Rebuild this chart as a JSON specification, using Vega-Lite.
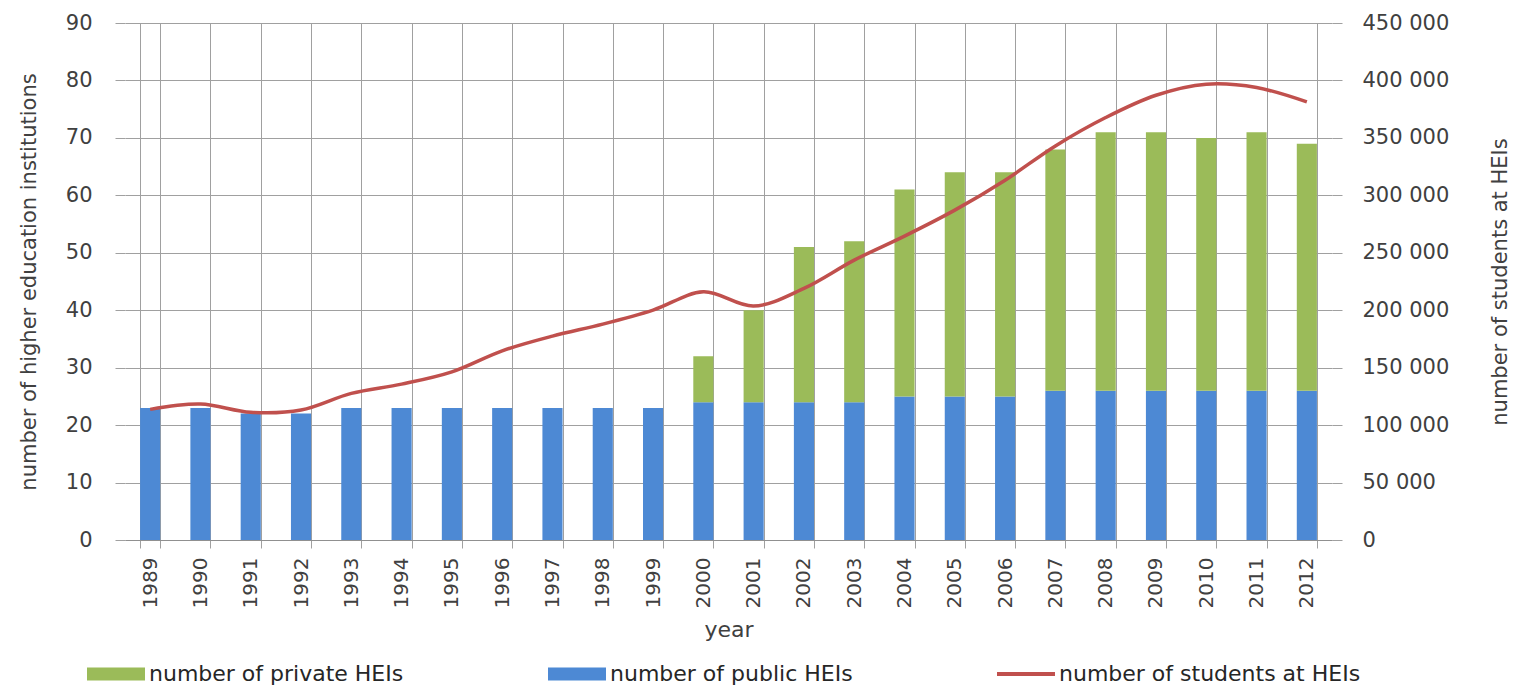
{
  "$schema": "https://vega.github.io/schema/vega-lite/v6.json",
  "width": 1207,
  "height": 517,
  "autosize": {"type": "none"},
  "padding": {"left": 125, "top": 23, "right": 185, "bottom": 151},
  "background": "white",
  "config": {"view": {"stroke": null}, "font": "DejaVu Sans"},
  "datasets": {
    "hei": [
      {"year": "1989", "type": "number of public HEIs", "count": 23},
      {"year": "1990", "type": "number of public HEIs", "count": 23},
      {"year": "1991", "type": "number of public HEIs", "count": 22},
      {"year": "1992", "type": "number of public HEIs", "count": 22},
      {"year": "1993", "type": "number of public HEIs", "count": 23},
      {"year": "1994", "type": "number of public HEIs", "count": 23},
      {"year": "1995", "type": "number of public HEIs", "count": 23},
      {"year": "1996", "type": "number of public HEIs", "count": 23},
      {"year": "1997", "type": "number of public HEIs", "count": 23},
      {"year": "1998", "type": "number of public HEIs", "count": 23},
      {"year": "1999", "type": "number of public HEIs", "count": 23},
      {"year": "2000", "type": "number of public HEIs", "count": 24},
      {"year": "2001", "type": "number of public HEIs", "count": 24},
      {"year": "2002", "type": "number of public HEIs", "count": 24},
      {"year": "2003", "type": "number of public HEIs", "count": 24},
      {"year": "2004", "type": "number of public HEIs", "count": 25},
      {"year": "2005", "type": "number of public HEIs", "count": 25},
      {"year": "2006", "type": "number of public HEIs", "count": 25},
      {"year": "2007", "type": "number of public HEIs", "count": 26},
      {"year": "2008", "type": "number of public HEIs", "count": 26},
      {"year": "2009", "type": "number of public HEIs", "count": 26},
      {"year": "2010", "type": "number of public HEIs", "count": 26},
      {"year": "2011", "type": "number of public HEIs", "count": 26},
      {"year": "2012", "type": "number of public HEIs", "count": 26},
      {"year": "1989", "type": "number of private HEIs", "count": 0},
      {"year": "1990", "type": "number of private HEIs", "count": 0},
      {"year": "1991", "type": "number of private HEIs", "count": 0},
      {"year": "1992", "type": "number of private HEIs", "count": 0},
      {"year": "1993", "type": "number of private HEIs", "count": 0},
      {"year": "1994", "type": "number of private HEIs", "count": 0},
      {"year": "1995", "type": "number of private HEIs", "count": 0},
      {"year": "1996", "type": "number of private HEIs", "count": 0},
      {"year": "1997", "type": "number of private HEIs", "count": 0},
      {"year": "1998", "type": "number of private HEIs", "count": 0},
      {"year": "1999", "type": "number of private HEIs", "count": 0},
      {"year": "2000", "type": "number of private HEIs", "count": 8},
      {"year": "2001", "type": "number of private HEIs", "count": 16},
      {"year": "2002", "type": "number of private HEIs", "count": 27},
      {"year": "2003", "type": "number of private HEIs", "count": 28},
      {"year": "2004", "type": "number of private HEIs", "count": 36},
      {"year": "2005", "type": "number of private HEIs", "count": 39},
      {"year": "2006", "type": "number of private HEIs", "count": 39},
      {"year": "2007", "type": "number of private HEIs", "count": 42},
      {"year": "2008", "type": "number of private HEIs", "count": 45},
      {"year": "2009", "type": "number of private HEIs", "count": 45},
      {"year": "2010", "type": "number of private HEIs", "count": 44},
      {"year": "2011", "type": "number of private HEIs", "count": 45},
      {"year": "2012", "type": "number of private HEIs", "count": 43}
    ],
    "students": [
      {"year": "1989", "students": 113700},
      {"year": "1990", "students": 118300},
      {"year": "1991", "students": 111100},
      {"year": "1992", "students": 113100},
      {"year": "1993", "students": 127600},
      {"year": "1994", "students": 135700},
      {"year": "1995", "students": 146400},
      {"year": "1996", "students": 164700},
      {"year": "1997", "students": 177500},
      {"year": "1998", "students": 187900},
      {"year": "1999", "students": 200100},
      {"year": "2000", "students": 216000},
      {"year": "2001", "students": 203600},
      {"year": "2002", "students": 219000},
      {"year": "2003", "students": 243600},
      {"year": "2004", "students": 264500},
      {"year": "2005", "students": 287100},
      {"year": "2006", "students": 313200},
      {"year": "2007", "students": 343000},
      {"year": "2008", "students": 367700},
      {"year": "2009", "students": 387100},
      {"year": "2010", "students": 396700},
      {"year": "2011", "students": 393800},
      {"year": "2012", "students": 381300}
    ]
  },
  "layer": [
    {
      "data": {"name": "hei"},
      "mark": {"type": "bar"},
      "encoding": {
        "x": {
          "field": "year",
          "type": "ordinal",
          "scale": {"paddingInner": 0.6, "paddingOuter": 0.3},
          "axis": {
            "title": "year",
            "tickBand": "extent",
            "grid": true,
            "gridColor": "#a0a0a0",
            "tickColor": "#a0a0a0",
            "tickSize": 8,
            "domainColor": "#909090",
            "labelAngle": -90,
            "labelFontSize": 20,
            "labelPadding": 9,
            "labelColor": "#404040",
            "titleFontSize": 22,
            "titleFontWeight": "normal",
            "titlePadding": 12,
            "titleColor": "#404040"
          }
        },
        "y": {
          "field": "count",
          "type": "quantitative",
          "stack": "zero",
          "scale": {"domain": [0, 90]},
          "axis": {
            "title": "number of higher education institutions",
            "values": [0, 10, 20, 30, 40, 50, 60, 70, 80, 90],
            "grid": true,
            "gridColor": "#a0a0a0",
            "tickColor": "#a0a0a0",
            "tickSize": 10,
            "domain": false,
            "labelPadding": 23,
            "labelFontSize": 21,
            "labelColor": "#404040",
            "titleFontSize": 21,
            "titleFontWeight": "normal",
            "titleColor": "#404040",
            "titlePadding": 26
          }
        },
        "color": {
          "field": "type",
          "type": "nominal",
          "scale": {
            "domain": ["number of private HEIs", "number of public HEIs", "number of students at HEIs"],
            "range": ["#9bbb59", "#4d89d4", "#c0504d"]
          },
          "legend": {
            "title": null,
            "orient": "none",
            "legendX": -38,
            "legendY": 622,
            "direction": "horizontal",
            "symbolType": "M-1,-0.224H1V0.224H-1Z",
            "symbolSize": 3364,
            "symbolStrokeWidth": 0,
            "labelFontSize": 22,
            "labelColor": "#262626",
            "labelOffset": 4,
            "labelLimit": 0,
            "columnPadding": 144,
            "encode": {
              "symbols": {
                "update": {
                  "shape": {"signal": "datum.value === 'number of students at HEIs' ? 'M-1,-0.07H1V0.07H-1Z' : 'M-1,-0.224H1V0.224H-1Z'"},
                  "fill": {"scale": "color", "field": "value"},
                  "opacity": {"value": 1},
                  "fillOpacity": {"value": 1}
                }
              }
            }
          }
        },
        "order": {"field": "type", "sort": "descending"}
      }
    },
    {
      "data": {"name": "students"},
      "mark": {"type": "line", "interpolate": "catmull-rom", "strokeWidth": 3.5},
      "encoding": {
        "x": {"field": "year", "type": "ordinal"},
        "y": {
          "field": "students",
          "type": "quantitative",
          "scale": {"domain": [0, 450000]},
          "axis": {
            "orient": "right",
            "title": "number of students at HEIs",
            "values": [0, 50000, 100000, 150000, 200000, 250000, 300000, 350000, 400000, 450000],
            "labelExpr": "replace(format(datum.value, ','), ',', ' ')",
            "grid": false,
            "tickColor": "#a0a0a0",
            "tickSize": 10,
            "domain": false,
            "labelPadding": 20,
            "labelFontSize": 21,
            "labelColor": "#404040",
            "titleFontSize": 21,
            "titleFontWeight": "normal",
            "titleColor": "#404040",
            "titleAngle": 270,
            "titlePadding": 62
          }
        },
        "color": {"datum": "number of students at HEIs"}
      }
    }
  ],
  "resolve": {"scale": {"y": "independent"}}
}
